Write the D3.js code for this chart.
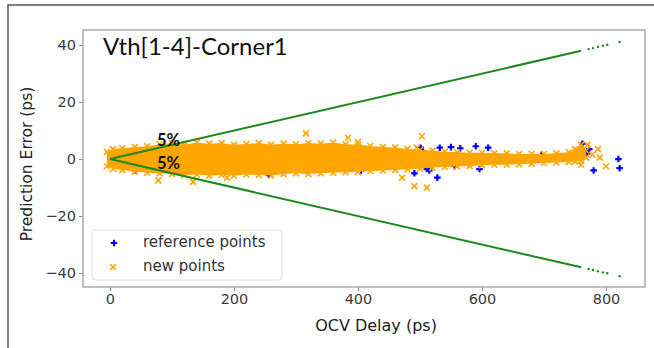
<!DOCTYPE html>
<html>
<head>
<meta charset="utf-8">
<script src="https://cdn.jsdelivr.net/npm/d3@7"></script>
<style>
  body { margin: 0; background: #fff; }
  svg { display: block; }
</style>
</head>
<body>
<div id="chart"></div>
<script>
// ---- data ----
const xTicks = [0, 200, 400, 600, 800];
const yTicks = [-40, -20, 0, 20, 40];

// dense cloud of "new points": envelope of the band (ps, error ps)
const bandX   = [-5, 5, 20, 40, 60, 80, 100, 120, 140, 160, 180, 200, 220, 240, 260, 280, 300, 320, 340, 360, 380, 400, 420, 440, 460, 480, 500, 520, 540, 560, 580, 600, 620, 640, 660, 680, 700, 720, 740, 750, 760, 768];
const bandTop = [2.5, 3.5, 3.8, 4.2, 4.5, 5.2, 5.6, 5.0, 5.8, 5.4, 5.6, 5.0, 5.3, 5.6, 5.0, 5.4, 5.2, 5.6, 5.4, 5.8, 5.2, 5.0, 4.6, 4.2, 4.0, 3.6, 3.2, 3.0, 2.6, 2.4, 2.2, 2.2, 2.0, 2.0, 1.8, 1.8, 1.8, 2.0, 2.4, 3.5, 5.0, 3.0];
const bandBot = [-2.5, -3.5, -3.8, -4.4, -4.8, -5.0, -5.2, -5.6, -5.4, -5.8, -5.6, -5.8, -5.4, -5.6, -5.8, -5.2, -5.0, -5.2, -5.0, -4.8, -4.6, -4.6, -4.2, -4.0, -3.8, -3.6, -3.4, -3.0, -2.8, -2.6, -2.4, -2.2, -2.0, -2.0, -1.8, -1.6, -1.4, -1.2, -1.0, -0.8, -0.6, 0.5];

// isolated new points
const newX   = [316, 503, 384, 400, 495, 78, 134, 189, 491, 511, 471, 787, 790, 800, 760, 770, 778];
const newErr = [9, 8, 7.5, 6, 4, -7.5, -8, -6.5, -9.5, -10, -6.5, 3.5, 0.5, -2.5, -2, 5, 1.5];

// reference points visible outside the band
const refX   = [501, 532, 550, 565, 590, 610, 505, 491, 511, 515, 528, 556, 596, 405, 256, 41, 200, 696, 730, 762, 770, 773, 780, 820, 822];
const refErr = [4, 4, 4.2, 3.8, 4.5, 4, 2.5, -5, -3.5, -4, -6.5, -2.5, -3.5, -4, -5.5, -4, -4.5, 1.5, 1, 5.4, 2, 3.5, -4, 0, -3.2];

// 5% bound: continuous up to 760 ps, then sparse samples
const boundEnd = 760;
const boundDots = [772, 779, 787, 795, 802, 822];
const boundPct = 0.05;

// ---- drawing ----
const W = 654, H = 348;
const plot = { left: 83, right: 645, top: 30, bottom: 287 };

const svg = d3.select("#chart").append("svg")
  .attr("width", W).attr("height", H);

// outer picture frame
svg.append("rect")
  .attr("x", 8).attr("y", 5).attr("width", 660).attr("height", 360)
  .attr("fill", "none").attr("stroke", "#555").attr("stroke-width", 1.5);

const x = d3.scaleLinear().domain([-43.5, 862.9]).range([plot.left, plot.right]);
const y = d3.scaleLinear().domain([45.3, -44.9]).range([plot.top, plot.bottom]);

svg.append("clipPath").attr("id", "clip")
  .append("rect")
  .attr("x", plot.left).attr("y", plot.top)
  .attr("width", plot.right - plot.left).attr("height", plot.bottom - plot.top);

const g = svg.append("g").attr("clip-path", "url(#clip)");

const fmt = d => (d < 0 ? "\u2212" + Math.abs(d) : "" + d);

// axes
const xAxis = d3.axisBottom(x).tickValues(xTicks).tickSize(4).tickPadding(3).tickFormat(fmt);
const yAxis = d3.axisLeft(y).tickValues(yTicks).tickSize(4).tickPadding(3).tickFormat(fmt);

const gx = svg.append("g").attr("transform", "translate(0," + plot.bottom + ")").call(xAxis);
const gy = svg.append("g").attr("transform", "translate(" + plot.left + ",0)").call(yAxis);
[gx, gy].forEach(a => {
  a.select(".domain").remove();
  a.selectAll(".tick line").attr("stroke", "#888");
  a.selectAll(".tick text")
    .attr("fill", "#3a3a3a")
    .style("font-family", "DejaVu Sans")
    .style("font-size", "14.5px");
});

// reference points (under the new points)
const cross = d3.symbol().type(d3.symbolCross).size(24);
g.selectAll(".ref").data(refX).join("path")
  .attr("class", "ref")
  .attr("transform", (d, i) => "translate(" + x(d) + "," + y(refErr[i]) + ")")
  .attr("d", cross)
  .attr("fill", "#0000ff");

// new points band
const orange = "#ffa500";
const band = d3.area()
  .x((d, i) => x(bandX[i]))
  .y0((d, i) => y(bandBot[i]))
  .y1((d, i) => y(bandTop[i]));
g.append("path").datum(bandX).attr("d", band).attr("fill", orange);

const xMark = "M-3,-3L3,3M-3,3L3,-3";
function drawX(sel, xs, ys) {
  sel.selectAll(null).data(xs).join("path")
    .attr("transform", (d, i) => "translate(" + x(d) + "," + y(ys[i]) + ")")
    .attr("d", xMark)
    .attr("stroke", orange).attr("stroke-width", 1.6).attr("fill", "none");
}
drawX(g.append("g"), bandX, bandTop);
drawX(g.append("g"), bandX, bandBot);
drawX(g.append("g"), newX, newErr);

// 5% bounds
const green = "#1a8a1a";
[1, -1].forEach(s => {
  const line = d3.line().x(d => x(d)).y(d => y(s * boundPct * d));
  g.append("path").datum([0, boundEnd]).attr("d", line)
    .attr("stroke", green).attr("stroke-width", 2).attr("fill", "none");
  g.selectAll(null).data(boundDots).join("circle")
    .attr("cx", d => x(d)).attr("cy", d => y(s * boundPct * d))
    .attr("r", 1.2).attr("fill", green);
});

// plot frame
svg.append("rect")
  .attr("x", plot.left).attr("y", plot.top)
  .attr("width", plot.right - plot.left).attr("height", plot.bottom - plot.top)
  .attr("fill", "none").attr("stroke", "#aaa").attr("stroke-width", 1.5);

// annotations
svg.append("text").attr("x", 103).attr("y", 55)
  .style("font-family", "Lato").style("font-size", "24px").attr("fill", "#111")
  .text("Vth[1-4]-Corner1");
["5%", "5%"].forEach((t, i) => {
  svg.append("text").attr("x", 157).attr("y", i === 0 ? 146 : 169)
    .style("font-family", "Lato").style("font-weight", "bold").style("font-size", "16.5px")
    .attr("fill", "#111").text(t);
});

// axis labels
svg.append("text").attr("x", 376).attr("y", 331).attr("text-anchor", "middle")
  .style("font-family", "DejaVu Sans").style("font-size", "16px").attr("fill", "#222")
  .text("OCV Delay (ps)");
svg.append("text").attr("transform", "translate(32,164) rotate(-90)").attr("text-anchor", "middle")
  .style("font-family", "DejaVu Sans").style("font-size", "15.5px").attr("fill", "#222")
  .text("Prediction Error (ps)");

// legend
const lg = svg.append("g");
lg.append("rect").attr("x", 92).attr("y", 230).attr("width", 190).attr("height", 50)
  .attr("rx", 3).attr("fill", "#fff").attr("fill-opacity", 0.85)
  .attr("stroke", "#ddd").attr("stroke-width", 1);
lg.append("path").attr("transform", "translate(114,243)").attr("d", cross).attr("fill", "#0000ff");
lg.append("path").attr("transform", "translate(113,267)").attr("d", xMark)
  .attr("stroke", orange).attr("stroke-width", 1.6).attr("fill", "none");
[["reference points", 247], ["new points", 271]].forEach(([t, yy]) => {
  lg.append("text").attr("x", 143).attr("y", yy)
    .style("font-family", "DejaVu Sans").style("font-size", "15px").attr("fill", "#333")
    .text(t);
});
</script>
</body>
</html>
